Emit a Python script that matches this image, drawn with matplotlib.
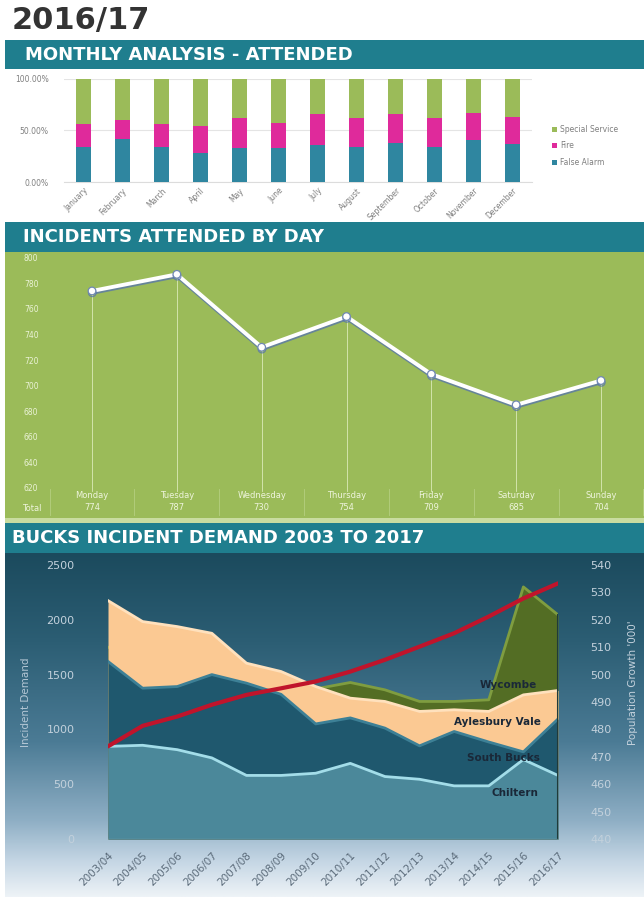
import numpy as np
import matplotlib
matplotlib.use('Agg')
import matplotlib.pyplot as plt
from matplotlib.patches import Rectangle
import matplotlib.patheffects as pe

# ---------------- data ----------------
months = ['January', 'February', 'March', 'April', 'May', 'June', 'July',
          'August', 'September', 'October', 'November', 'December']
false_alarm = [33.5, 41.6, 33.5, 27.7, 33.2, 33.2, 35.8, 33.5, 37.4, 33.5, 40.6, 36.5]
fire = [22.3, 18.7, 22.3, 26.5, 28.4, 23.6, 30.0, 28.8, 28.1, 28.8, 25.9, 26.1]
special_service = [44.2, 39.7, 44.2, 45.8, 38.4, 43.2, 34.2, 37.7, 34.5, 37.7, 33.5, 37.4]

days = ['Monday', 'Tuesday', 'Wednesday', 'Thursday', 'Friday', 'Saturday', 'Sunday']
day_totals = [774, 787, 730, 754, 709, 685, 704]
day_ticks = [620, 640, 660, 680, 700, 720, 740, 760, 780, 800]

years = ['2003/04', '2004/05', '2005/06', '2006/07', '2007/08', '2008/09', '2009/10',
         '2010/11', '2011/12', '2012/13', '2013/14', '2014/15', '2015/16', '2016/17']
chiltern = [845, 855, 815, 740, 580, 580, 600, 690, 570, 545, 485, 485, 725, 580]
south_bucks = [1620, 1376, 1391, 1500, 1422, 1320, 1050, 1105, 1012, 850, 981, 885, 795, 1095]
aylesbury_vale = [2175, 1984, 1938, 1877, 1604, 1528, 1391, 1285, 1255, 1164, 1179, 1164, 1315, 1355]
wycombe = [1750, 1650, 1600, 1550, 1450, 1400, 1370, 1428, 1361, 1255, 1255, 1270, 2300, 2045]
population = [473.8, 481.3, 484.7, 489.0, 492.6, 495.0, 497.5, 501.1, 505.4, 510.2, 515.1,
              521.2, 527.8, 533.3]

# ---------------- layout helpers ----------------
W, H = 644, 897
fig = plt.figure(figsize=(W / 100, H / 100), dpi=100)
fig.patch.set_facecolor('white')
plt.rcParams['font.family'] = ['DejaVu Sans']


def rect(x0, y0, x1, y1):
    return [x0 / W, 1 - y1 / H, (x1 - x0) / W, (y1 - y0) / H]


def fx(x):
    return x / W


def fy(y):
    return 1 - y / H


def add_rect(x0, y0, x1, y1, color, z=-5):
    r = Rectangle((fx(x0), fy(y1)), (x1 - x0) / W, (y1 - y0) / H,
                  transform=fig.transFigure, facecolor=color, edgecolor='none', zorder=z)
    fig.patches.append(r)


BANNER = '#1f7e8e'
# Title
fig.text(fx(12), fy(20), '2016/17', fontsize=22, fontweight='bold', color='#333333',
         ha='left', va='center')

# Banners
add_rect(5, 40, 644, 69, BANNER)
fig.text(fx(25), fy(54.5), 'MONTHLY ANALYSIS - ATTENDED', fontsize=13, fontweight='bold',
         color='white', ha='left', va='center')
add_rect(5, 222, 644, 252, BANNER)
fig.text(fx(23), fy(237), 'INCIDENTS ATTENDED BY DAY', fontsize=13, fontweight='bold',
         color='white', ha='left', va='center')
add_rect(5, 252, 644, 518, '#9bbb59')
add_rect(5, 518, 644, 523, '#c9dca0')
add_rect(5, 523, 644, 553, BANNER)
fig.text(fx(12), fy(538), 'BUCKS INCIDENT DEMAND 2003 TO 2017', fontsize=13, fontweight='bold',
         color='white', ha='left', va='center')

# ---------------- top: monthly stacked bars ----------------
C_FA, C_FIRE, C_SS = '#2f86a0', '#df2a9b', '#9bbb59'
ax1 = fig.add_axes(rect(64, 78.7, 532, 182))
ax1.set_facecolor('none')
xm = np.arange(len(months))
fa = np.array(false_alarm) / 100
fi = np.array(fire) / 100
ss = np.array(special_service) / 100
w = 15 / 39
b1 = ax1.bar(xm, fa, width=w, color=C_FA, label='False Alarm', zorder=3)
b2 = ax1.bar(xm, fi, width=w, bottom=fa, color=C_FIRE, label='Fire', zorder=3)
b3 = ax1.bar(xm, ss, width=w, bottom=fa + fi, color=C_SS, label='Special Service', zorder=3)
ax1.set_xlim(-0.5, 11.5)
ax1.set_ylim(0, 1)
ax1.set_yticks([0, 0.5, 1.0])
ax1.set_yticklabels(['0.00%', '50.00%', '100.00%'])
ax1.yaxis.grid(True, color='#e4e4e4', lw=0.8, zorder=0)
ax1.set_xticks(xm)
ax1.set_xticklabels(months, rotation=45, ha='right', rotation_mode='anchor')
ax1.tick_params(axis='both', length=0, labelsize=5.5, labelcolor='#7f7f7f')
ax1.tick_params(axis='y', pad=11)
ax1.tick_params(axis='x', pad=3)
for s in ax1.spines.values():
    s.set_visible(False)
ax1.spines['bottom'].set_visible(True)
ax1.spines['bottom'].set_color('#dcdcdc')
leg = fig.legend(handles=[b3, b2, b1], labels=['Special Service', 'Fire', 'False Alarm'],
                 loc='center left', bbox_to_anchor=(fx(549), fy(146)), frameon=False,
                 fontsize=5.5, handlelength=0.6, handleheight=0.6, handletextpad=0.5,
                 labelspacing=1.0, borderaxespad=0)
for t in leg.get_texts():
    t.set_color('#7f7f7f')

# ---------------- middle: incidents by day ----------------
ax2 = fig.add_axes(rect(49.6, 257.7, 643.4, 488))
ax2.set_facecolor('none')
ax2.set_zorder(2)
xd = np.arange(len(days))
ax2.set_xlim(-0.5, 6.5)
ax2.set_ylim(620, 800)
for i, v in enumerate(day_totals):
    ax2.plot([i, i], [618, v], color='#e6f2c8', lw=0.6, alpha=0.85, zorder=2, clip_on=False)
ax2.plot(xd, day_totals, color='white', lw=2.8, marker='o', ms=5.5, mfc='white',
         mec='#7088b4', mew=0.9, zorder=4, solid_joinstyle='miter',
         path_effects=[pe.SimpleLineShadow(offset=(0.2, -1.3), shadow_color='#5572b0',
                                           alpha=0.75), pe.Normal()])
ax2.set_yticks(day_ticks)
ax2.set_xticks([])
ax2.tick_params(axis='y', length=0, labelsize=5.5, labelcolor='#eaf2d6', pad=8)
for s in ax2.spines.values():
    s.set_visible(False)
# data table below
for i, (d, v) in enumerate(zip(days, day_totals)):
    ax2.text(i, 613.8, d, ha='center', va='center', fontsize=6, color='#eef4dc',
             clip_on=False)
    ax2.text(i, 604.4, str(v), ha='center', va='center', fontsize=6, color='#eef4dc',
             clip_on=False)
fig.text(fx(22), fy(508), 'Total', ha='left', va='center', fontsize=6, color='#eef4dc')
for i in range(8):
    fig.lines.append(plt.Line2D([fx(49.6 + i * 84.83)] * 2, [fy(489), fy(515)],
                                transform=fig.transFigure, color='#b5cf80', lw=0.6))

# ---------------- bottom: demand areas ----------------
# gradient background
bg = fig.add_axes(rect(5, 553, 644, 897))
bg.set_axis_off()
bg.set_zorder(-1)
stops_y = np.array([0.0, 0.25, 0.55, 0.78, 0.9, 1.0])
stops_c = np.array([[0x1b, 0x4a, 0x5d], [0x2b, 0x5d, 0x73], [0x4b, 0x7b, 0x95],
                    [0x8f, 0xaf, 0xc5], [0xc6, 0xd7, 0xe5], [0xee, 0xf3, 0xf7]]) / 255
yy = np.linspace(0, 1, 300)
grad = np.stack([np.interp(yy, stops_y, stops_c[:, k]) for k in range(3)], axis=-1)
grad = np.repeat(grad[:, None, :], 10, axis=1)
bg.imshow(grad, aspect='auto', extent=[0, 1, 0, 1], origin='upper')

ax3 = fig.add_axes(rect(108, 565, 558, 839))
ax3.set_facecolor('none')
xy = np.arange(len(years))
series = [
    (wycombe, '#536d24', '#7f9d40'),
    (aylesbury_vale, '#fbc993', '#ffe1bd'),
    (south_bucks, '#1f586e', '#3d8096'),
    (chiltern, '#4b889a', '#a3dde9'),
]
for z, (vals, fc, ec) in enumerate(series):
    ax3.fill_between(xy, 0, vals, color=fc, lw=0, zorder=2 + z)
    ax3.plot(xy, vals, color=ec, lw=2, zorder=2 + z + 0.5, solid_joinstyle='round')
ax3.plot([13, 13], [0, wycombe[-1]], color='#203a3a', lw=1.5, zorder=8)
ax3.axhline(0, color='#c9d7e2', lw=0.8, zorder=8)
ax3.set_xlim(0, 13)
ax3.set_ylim(0, 2500)
ax3.set_yticks([0, 500, 1000, 1500, 2000, 2500])
ax3.set_xticks(xy)
ax3.set_xticklabels(years, rotation=45, ha='right', rotation_mode='anchor')
ax3.tick_params(axis='y', length=0, labelsize=8, labelcolor='#c3d1dc', pad=24)
ax3.tick_params(axis='x', length=0, labelsize=7.5, labelcolor='#5b6b7a', pad=8)
ax3.set_ylabel('Incident Demand', fontsize=7.5, color='#b3c6d4')
ax3.yaxis.set_label_coords((31 - 108) / 450, 0.5)
for s in ax3.spines.values():
    s.set_visible(False)

labels = [('Wycombe', 11.56, 1404), ('Aylesbury Vale', 11.24, 1067),
          ('South Bucks', 11.42, 738), ('Chiltern', 11.76, 419)]
for txt, lx, ly in labels:
    ax3.text(lx, ly, txt, ha='center', va='center', fontsize=7.5, fontweight='bold',
             color='#1a2838', zorder=12)

ax4 = ax3.twinx()
ax4.set_ylim(440, 540)
ax4.plot(xy, population, color='#c0142b', lw=3, zorder=10, solid_capstyle='round')
ax4.set_yticks([440, 450, 460, 470, 480, 490, 500, 510, 520, 530, 540])
ax4.tick_params(axis='y', length=0, labelsize=8, labelcolor='#c3d1dc', pad=23)
ax4.set_ylabel("Population Growth '000'", fontsize=7.5, color='#c3d1dc', rotation=90)
ax4.yaxis.set_label_coords((628 - 108) / 450, 0.57)
for s in ax4.spines.values():
    s.set_visible(False)

fig.savefig('out.png', dpi=100, facecolor='white')
